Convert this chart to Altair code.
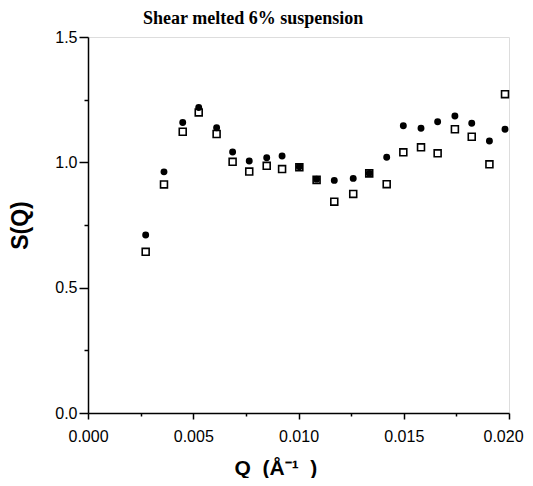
import altair as alt
import pandas as pd

q_values = [0.00274, 0.00361, 0.00450, 0.00526, 0.00611, 0.00687, 0.00766, 0.00849,
            0.00922, 0.01004, 0.01086, 0.01170, 0.01260, 0.01336, 0.01419, 0.01498,
            0.01582, 0.01661, 0.01743, 0.01823, 0.01907, 0.01981]
s_filled = [0.710, 0.962, 1.159, 1.219, 1.138, 1.041, 1.005, 1.018, 1.025, 0.982, 0.933,
            0.928, 0.936, 0.956, 1.020, 1.146, 1.136, 1.162, 1.185, 1.156, 1.085, 1.132]
s_open = [0.643, 0.912, 1.122, 1.199, 1.113, 1.002, 0.963, 0.986, 0.973, 0.980, 0.930,
          0.843, 0.874, 0.956, 0.913, 1.040, 1.060, 1.036, 1.132, 1.102, 0.992, 1.272]

x_ticks = [0.0, 0.0025, 0.005, 0.0075, 0.01, 0.0125, 0.015, 0.0175, 0.02]
y_ticks = [0.0, 0.25, 0.5, 0.75, 1.0, 1.25, 1.5]

df = pd.DataFrame({"Q": q_values, "filled": s_filled, "open": s_open})

NB = "\u00a0"

x_axis = alt.Axis(
    values=x_ticks,
    labelExpr="round(datum.value*400) % 2 == 0 ? format(datum.value, '.3f') : ''",
    tickSize={"condition": {"test": "round(datum.value*400) % 2 == 0", "value": 6}, "value": 3},
    labelOffset={"condition": {"test": "datum.value > 0.019", "value": -6}, "value": 0},
    labelFont="Liberation Sans", labelFontSize=16, labelColor="black", labelPadding=9,
    labelOverlap=False, labelFlush=False,
    title="Q" + NB * 2 + "(Å⁻¹" + NB * 2 + ")", titleFont="Liberation Sans", titleFontSize=21,
    titleFontWeight="bold",
    titleColor="black", titleX=146, titleY=61, titleBaseline="alphabetic",
    titleAlign="left",
    domainColor="black", domainWidth=1.5, tickColor="black", tickWidth=1.5, grid=False,
)
y_axis = alt.Axis(
    values=y_ticks,
    labelExpr="round(datum.value*4) % 2 == 0 ? format(datum.value, '.1f') : ''",
    tickSize={"condition": {"test": "round(datum.value*4) % 2 == 0", "value": 9}, "value": 4},
    labelFont="Liberation Sans", labelFontSize=16, labelColor="black", labelPadding=2,
    labelOverlap=False, labelFlush=False,
    title="S(Q)", titleFont="Liberation Sans", titleFontSize=23, titleFontWeight="bold",
    titleColor="black", titleAngle=270, titleX=-68, titleY=188, titleBaseline="middle",
    titleAlign="center",
    domainColor="black", domainWidth=1.5, tickColor="black", tickWidth=1.5, grid=False,
)

x_enc = alt.X("Q:Q", scale=alt.Scale(domain=[0, 0.02], nice=False), axis=x_axis)

circles = alt.Chart(df).mark_point(
    shape="circle", filled=True, color="black", size=48, opacity=1
).encode(x=x_enc, y=alt.Y("filled:Q", scale=alt.Scale(domain=[0, 1.5], nice=False), axis=y_axis))

squares = alt.Chart(df).mark_point(
    shape="square", filled=False, color="black", size=48, strokeWidth=1.6, opacity=1
).encode(x=x_enc, y=alt.Y("open:Q", scale=alt.Scale(domain=[0, 1.5], nice=False), axis=y_axis))

chart = alt.layer(circles, squares).properties(
    width=421, height=376,
    title=alt.TitleParams(
        "Shear melted 6% suspension", font="Liberation Serif", fontSize=18,
        fontWeight="bold", color="black", anchor="start", frame="group", dx=55, offset=1,
    ),
    autosize=alt.AutoSizeParams(type="none"),
    padding={"left": 80, "top": 29, "right": 16, "bottom": 65},
).configure_view(stroke="black", strokeWidth=1.5).configure(background="white")

chart.save("out.html", embed_options={"renderer": "svg", "actions": False})
